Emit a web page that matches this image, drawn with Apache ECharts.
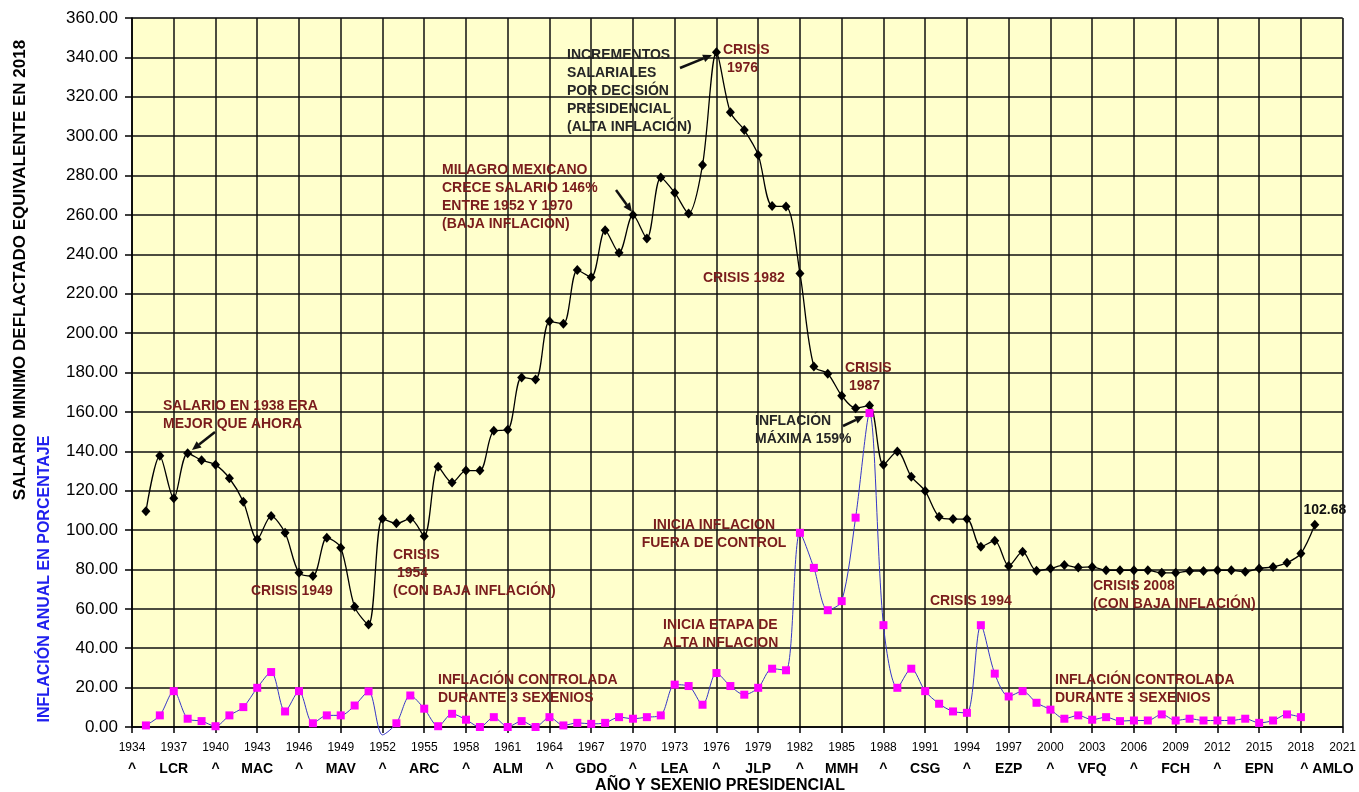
<!DOCTYPE html>
<html>
<head>
<meta charset="utf-8">
<script src="https://cdn.jsdelivr.net/npm/echarts/dist/echarts.min.js"></script>
<style>
html,body{margin:0;padding:0;background:#fff;}
#chart{width:1359px;height:792px;}
</style>
</head>
<body>
<div id="chart"></div>
<script>
// Categories: years 1934..2021
const years = ['1934','1935','1936','1937','1938','1939','1940','1941','1942','1943','1944','1945','1946','1947','1948','1949',
'1950','1951','1952','1953','1954','1955','1956','1957','1958','1959','1960','1961','1962','1963','1964','1965','1966','1967','1968','1969',
'1970','1971','1972','1973','1974','1975','1976','1977','1978','1979','1980','1981','1982','1983','1984','1985','1986','1987','1988','1989',
'1990','1991','1992','1993','1994','1995','1996','1997','1998','1999','2000','2001','2002','2003','2004','2005','2006','2007','2008','2009',
'2010','2011','2012','2013','2014','2015','2016','2017','2018','2019','2020','2021'];

// Salario mínimo deflactado (pesos de 2018), 1934..2021
const salario = [null,
109.5,137.7,116.1,139.0,135.5,133.1,126.3,114.4,95.3,107.1,98.6,78.3,76.7,96.1,91.0,
61.0,52.0,105.8,103.4,105.8,96.9,132.2,124.1,130.2,130.2,150.4,150.9,177.5,176.5,206.0,204.7,232.0,228.4,252.2,240.8,
260.0,248.1,279.0,271.3,260.7,285.4,342.6,312.1,303.1,290.5,264.5,264.3,230.3,183.1,179.4,168.2,161.9,163.2,133.1,139.9,
127.1,119.8,106.8,105.6,105.6,91.5,94.6,81.8,89.0,79.3,80.5,82.2,81.0,81.3,79.6,79.6,79.6,79.6,78.3,78.3,
79.2,79.2,79.6,79.6,78.8,80.5,81.3,83.4,88.1,102.68,null,null];

// Inflación anual (%), 1934..2021
const inflacion = [null,
0.8,5.9,18.2,4.2,3.0,0.4,5.9,10.1,19.9,27.9,7.9,18.2,1.9,5.9,5.9,
10.9,18.1,-4,1.9,16.0,9.3,0.4,6.7,3.7,0,5.0,0,3.0,0,5.0,0.8,2.1,1.6,2.1,5.0,
4.2,5.0,5.9,21.5,20.8,11.3,27.4,20.8,16.4,19.9,29.6,28.8,98.6,80.8,59.3,63.9,106.3,159.4,51.7,19.9,
29.6,18.2,11.8,7.9,7.2,51.7,27.1,15.5,18.2,12.3,8.8,4.2,5.9,3.7,5.0,3.0,3.3,3.3,6.4,3.3,
4.2,3.3,3.3,3.3,4.2,2.1,3.3,6.4,5.0,null,null,null];

// Second row of x labels (sexenios), one per 3-year tick
const sexenios = ['^','LCR','^','MAC','^','MAV','^','ARC','^','ALM','^','GDO','^','LEA','^','JLP','^','MMH','^','CSG','^','EZP','^','VFQ','^','FCH','^','EPN','^ AMLO',''];

// Y tick range
const yMin = 0, yMax = 360, yStep = 20;

const RED = '#7a1c1c';
const DARK = '#262626';
const FONT = '"Liberation Sans", Arial, sans-serif';

const chart = echarts.init(document.getElementById('chart'), null, {renderer:'canvas'});

const salarioData = salario.map((v, i) => {
  if (v === 102.68) {
    return {value: v, label: {show: true, position: 'top', offset: [10, 2], formatter: '102.68',
      fontFamily: FONT, fontWeight: 'bold', fontSize: 14, color: '#111'}};
  }
  return v;
});
const inflacionData = inflacion.map(v => (v !== null && v < 0) ? {value: v, symbol: 'none'} : v);

function txt(x, y, text, color, align) {
  return {type: 'text', x: x, y: y, z: 100,
    style: {text: text, fill: color, font: 'bold 14px ' + FONT, lineHeight: 18,
      align: align || 'left', verticalAlign: 'top'}};
}
function arrow(x1, y1, x2, y2) {
  const ang = Math.atan2(y2 - y1, x2 - x1);
  const L = 9, W = 4;
  const bx = x2 - L * Math.cos(ang), by = y2 - L * Math.sin(ang);
  const px = -Math.sin(ang) * W, py = Math.cos(ang) * W;
  return [
    {type: 'line', z: 100, shape: {x1: x1, y1: y1, x2: bx, y2: by}, style: {stroke: '#111', lineWidth: 2.5}},
    {type: 'polygon', z: 100, shape: {points: [[x2, y2], [bx + px, by + py], [bx - px, by - py]]}, style: {fill: '#111'}}
  ];
}

const graphics = [
  {type: 'text', x: 20, y: 270, rotation: Math.PI / 2, z: 100,
    style: {text: 'SALARIO MINIMO DEFLACTADO EQUIVALENTE EN 2018', fill: '#000', font: 'bold 17px ' + FONT, align: 'center', verticalAlign: 'middle'}},
  {type: 'text', x: 45, y: 579, rotation: Math.PI / 2, z: 100,
    style: {text: 'INFLACIÓN ANUAL EN PORCENTAJE', fill: '#2020ee', font: 'bold 16px ' + FONT, align: 'center', verticalAlign: 'middle'}},
  {type: 'text', x: 720, y: 786, z: 100,
    style: {text: 'AÑO Y SEXENIO PRESIDENCIAL', fill: '#000', font: 'bold 16px ' + FONT, align: 'center', verticalAlign: 'middle'}},
  txt(163, 397, 'SALARIO EN 1938 ERA\nMEJOR QUE AHORA', RED),
  txt(251, 582, 'CRISIS 1949', RED),
  txt(393, 546, 'CRISIS\n 1954\n(CON BAJA INFLACIÓN)', RED),
  txt(438, 671, 'INFLACIÓN CONTROLADA\nDURANTE 3 SEXENIOS', RED),
  txt(442, 161, 'MILAGRO MEXICANO\nCRECE SALARIO 146%\nENTRE 1952 Y 1970\n(BAJA INFLACIÓN)', RED),
  txt(567, 46, 'INCREMENTOS\nSALARIALES\nPOR DECISIÓN\nPRESIDENCIAL\n(ALTA INFLACIÓN)', DARK),
  txt(723, 41, 'CRISIS\n 1976', RED),
  txt(703, 269, 'CRISIS 1982', RED),
  txt(845, 359, 'CRISIS\n 1987', RED),
  txt(755, 412, 'INFLACIÓN\nMÁXIMA 159%', DARK),
  txt(714, 516, 'INICIA INFLACION\nFUERA DE CONTROL', RED, 'center'),
  txt(663, 616, 'INICIA ETAPA DE\nALTA INFLACION', RED),
  txt(930, 592, 'CRISIS 1994', RED),
  txt(1093, 577, 'CRISIS 2008\n(CON BAJA INFLACIÓN)', RED),
  txt(1055, 671, 'INFLACIÓN CONTROLADA\nDURANTE 3 SEXENIOS', RED)
].concat(arrow(215, 432, 192, 450), arrow(616, 190, 632, 212), arrow(680, 68, 712, 55), arrow(843, 426, 864, 416));

const option = {
  animation: false,
  backgroundColor: '#ffffff',
  grid: {left: 132, right: 15, top: 18, bottom: 65, show: true, backgroundColor: '#FFFFCC', borderColor: '#9a9a9a', borderWidth: 1},
  xAxis: [
    {type: 'category', data: years, boundaryGap: false,
      axisLine: {show: true, lineStyle: {color: '#000', width: 1.5}},
      axisTick: {show: true, interval: 2, length: 6, lineStyle: {color: '#000', width: 1.5}},
      axisLabel: {interval: 2, margin: 15, fontFamily: FONT, fontSize: 12, color: '#000'},
      splitLine: {show: true, interval: 2, lineStyle: {color: '#111', width: 1.5}}},
    {type: 'category', data: years, boundaryGap: false, position: 'bottom', offset: 20,
      axisLine: {show: false}, axisTick: {show: false}, splitLine: {show: false},
      axisLabel: {interval: 2, margin: 15, fontFamily: FONT, fontSize: 14, fontWeight: 'bold', color: '#000',
        formatter: function (val, idx) {
          const s = sexenios[Math.round(idx / 3)] || '';
          if (s.indexOf('AMLO') >= 0) return '{p|' + s + '}';
          return s;
        },
        rich: {p: {fontFamily: FONT, fontSize: 14, fontWeight: 'bold', color: '#000', padding: [0, 0, 0, 52]}}}}
  ],
  yAxis: {type: 'value', min: yMin, max: yMax, interval: yStep,
    axisLine: {show: true, lineStyle: {color: '#000', width: 1.5}},
    axisTick: {show: true, length: 7, lineStyle: {color: '#000', width: 1.5}},
    axisLabel: {margin: 14, fontFamily: FONT, fontSize: 17, color: '#000', formatter: v => v.toFixed(2)},
    splitLine: {show: true, lineStyle: {color: '#111', width: 1.5}}},
  series: [
    {name: 'Salario', type: 'line', data: salarioData, smooth: 0.3, connectNulls: false, showAllSymbol: true,
      symbol: 'diamond', symbolSize: [9, 10], itemStyle: {color: '#000'},
      lineStyle: {color: '#000', width: 1.3}, z: 3},
    {name: 'Inflación', type: 'line', data: inflacionData, smooth: 0.3, clip: false, showAllSymbol: true,
      symbol: 'rect', symbolSize: 8, itemStyle: {color: '#ff00ff'},
      lineStyle: {color: '#3535c8', width: 1}, z: 4}
  ],
  graphic: graphics
};
chart.setOption(option);
</script>
</body>
</html>
